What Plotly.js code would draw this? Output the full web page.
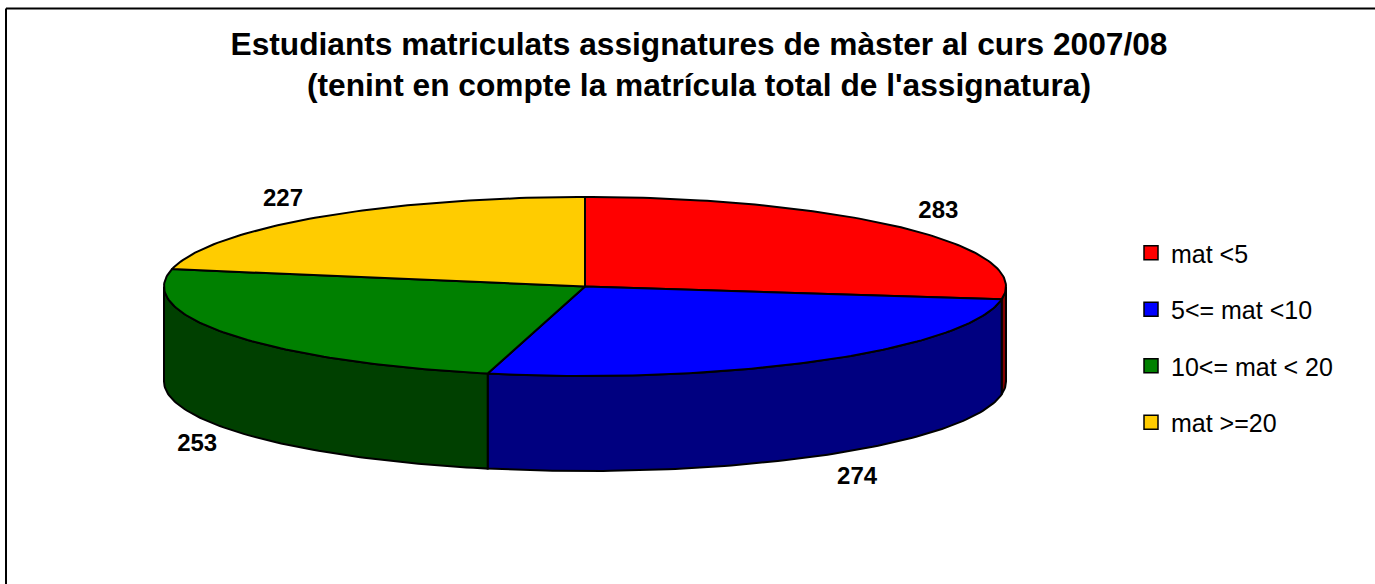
<!DOCTYPE html>
<html>
<head>
<meta charset="utf-8">
<script src="https://cdn.plot.ly/plotly-3.0.1.min.js"></script>
<style>html,body{margin:0;padding:0;background:#fff}#chart{width:1375px;height:584px}</style>
</head>
<body>
<div id="chart"></div>
<script>
const categories = ['mat <5', '5<= mat <10', '10<= mat < 20', 'mat >=20'];
const values = [283, 274, 253, 227];
const topColors = ['#ff0000', '#0000ff', '#008000', '#ffcc00'];
const wallColors = ['#800000', '#000080', '#004000', '#806600'];
const titleLines = ['Estudiants matriculats assignatures de màster al curs 2007/08',
                    "(tenint en compte la matrícula total de l'assignatura)"];
const labelRadiusX = [1.11, 1.15, 1.095, 1.13];
const labelRadiusY = [1.28, 1.30, 1.32, 1.25];

const W = 1375, H = 584;
const cx = 585, cy = 286.5, rx = 421, ry = 89.5, depth = 95;
const FONT = '"Liberation Sans", Arial, sans-serif';
const total = values.reduce((a, b) => a + b, 0);

function px(t) { return cx + rx * Math.sin(t * Math.PI / 180); }
function py(t) { return cy - ry * Math.cos(t * Math.PI / 180); }
function arc(a, b) {
  const out = [], n = Math.max(1, Math.ceil(Math.abs(b - a)));
  for (let i = 0; i <= n; i++) out.push(a + (b - a) * i / n);
  return out;
}

let acc = 0;
const slices = values.map(v => {
  const s = { a: acc / total * 360 };
  acc += v;
  s.b = acc / total * 360;
  s.m = (s.a + s.b) / 2;
  return s;
});

const traces = [];
// Walls: only the front half of the rim (90 to 270 degrees) can be seen
slices.forEach((s, i) => {
  const a = Math.max(s.a, 90), b = Math.min(s.b, 270);
  if (b <= a) return;
  const ts = arc(a, b);
  const xs = ts.map(px), yt = ts.map(py);
  traces.push({
    type: 'scatter', mode: 'lines', fill: 'toself', fillcolor: wallColors[i],
    x: xs.concat(xs.slice().reverse(), [xs[0]]),
    y: yt.concat(yt.map(y => y + depth).reverse(), [yt[0]]),
    line: { color: '#000', width: 2 }, showlegend: false, hoverinfo: 'skip'
  });
});
// Top faces
slices.forEach((s, i) => {
  const ts = arc(s.a, s.b);
  traces.push({
    type: 'scatter', mode: 'lines', fill: 'toself', fillcolor: topColors[i],
    x: [cx].concat(ts.map(px), [cx]),
    y: [cy].concat(ts.map(py), [cy]),
    line: { color: '#000', width: 2 }, showlegend: false,
    name: categories[i], text: String(values[i]), hoverinfo: 'name+text'
  });
});
// Value labels
traces.push({
  type: 'scatter', mode: 'text',
  x: slices.map((s, i) => cx + rx * labelRadiusX[i] * Math.sin(s.m * Math.PI / 180)),
  y: slices.map((s, i) => cy - ry * labelRadiusY[i] * Math.cos(s.m * Math.PI / 180) + (Math.cos(s.m * Math.PI / 180) < 0 ? depth : 0)),
  text: values.map(String), textposition: 'middle center',
  textfont: { family: FONT, size: 24, color: '#000', weight: 700 },
  showlegend: false, hoverinfo: 'skip'
});
// Legend entries
categories.forEach((c, i) => {
  traces.push({
    type: 'scatter', mode: 'markers', x: [null], y: [null], name: c, legendgroup: 'g' + i,
    marker: { symbol: 'square', size: 14, color: topColors[i], line: { color: '#000', width: 1.5 } }
  });
});

const layout = {
  width: W, height: H, margin: { l: 0, r: 0, t: 0, b: 0 },
  paper_bgcolor: '#fff', plot_bgcolor: '#fff',
  xaxis: { range: [0, W], visible: false, fixedrange: true },
  yaxis: { range: [H, 0], visible: false, fixedrange: true },
  title: {
    text: titleLines.join('<br>'), x: 699 / W, xanchor: 'center', y: 1 - 55 / H, yanchor: 'top',
    font: { family: FONT, size: 31.7, color: '#000', weight: 700 }
  },
  legend: {
    x: 1131 / W, xanchor: 'left', y: 1 - 230 / H, yanchor: 'top',
    font: { family: FONT, size: 25, color: '#000' },
    tracegroupgap: 21, bgcolor: 'rgba(0,0,0,0)', borderwidth: 0
  },
  shapes: [
    { type: 'line', xref: 'paper', yref: 'paper', x0: 6 / W, x1: 6 / W, y0: 0, y1: 1 - 8.5 / H, line: { color: '#000', width: 2 } },
    { type: 'line', xref: 'paper', yref: 'paper', x0: 6 / W, x1: 1, y0: 1 - 8.5 / H, y1: 1 - 8.5 / H, line: { color: '#000', width: 2 } }
  ]
};
Plotly.newPlot('chart', traces, layout, { displayModeBar: false });
</script>
</body>
</html>
